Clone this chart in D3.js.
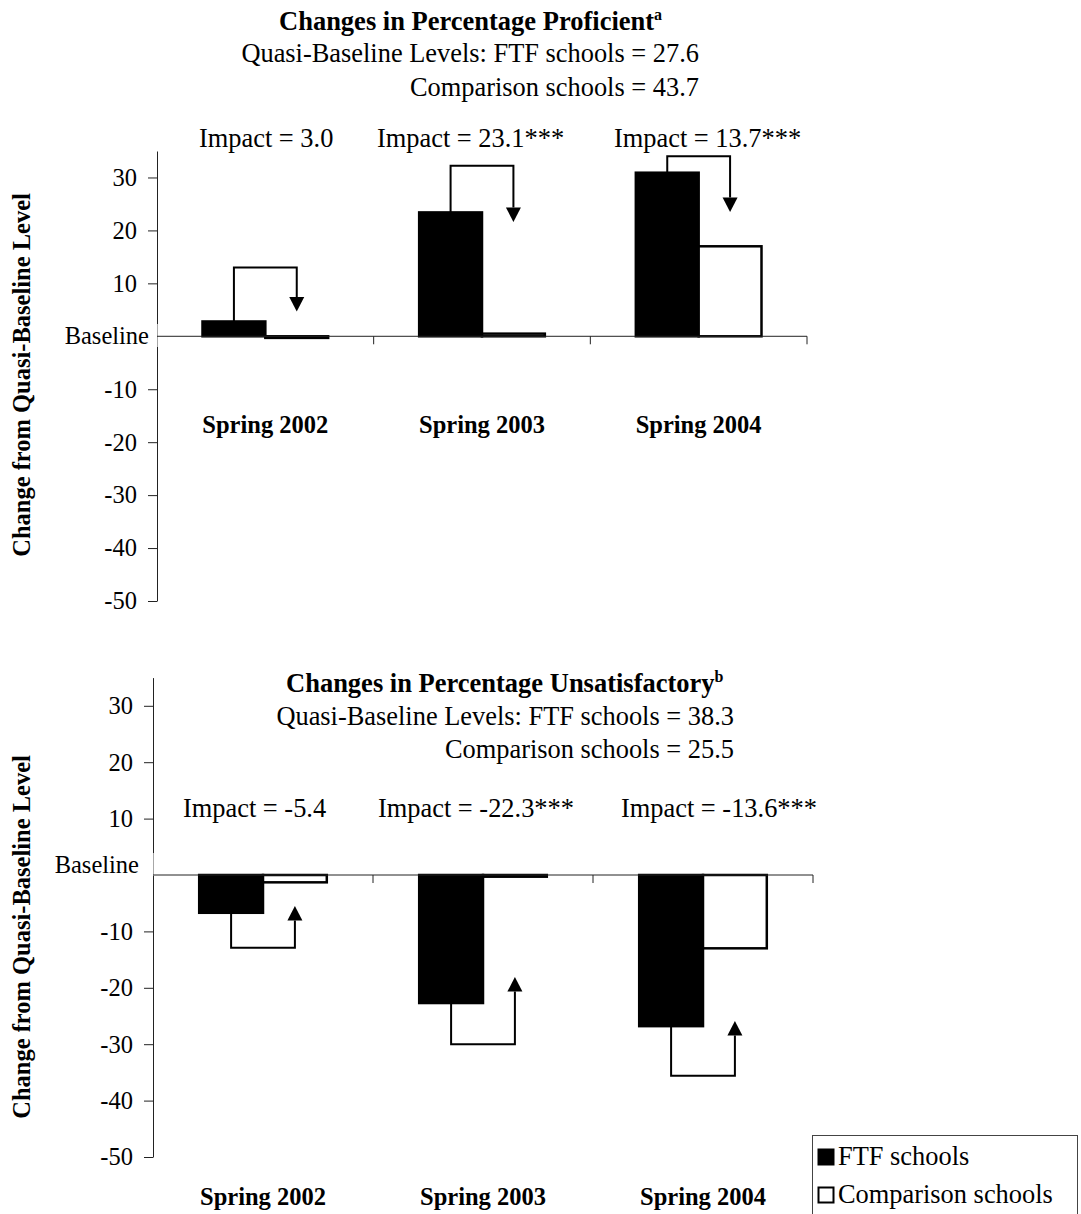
<!DOCTYPE html>
<html>
<head>
<meta charset="utf-8">
<script src="https://cdn.jsdelivr.net/npm/d3@7"></script>
<style>
  body { margin: 0; background: #fff; }
  svg { display: block; }
  text { font-family: "Liberation Serif", "Times New Roman", Times, serif; fill: #000; }
</style>
</head>
<body>
<svg id="chart"></svg>
<script>
// --- data ---
const categories = ["Spring 2002", "Spring 2003", "Spring 2004"];
const series = ["FTF schools", "Comparison schools"];
const yTicks = [-50, -40, -30, -20, -10, 0, 10, 20, 30];
const yDomain = [-50, 35];

const proficientFTF = [2.8, 23.4, 30.9];
const proficientComp = [-0.3, 0.5, 17.0];
const proficientBracket = [13.0, 32.2, 34.0];
const proficientArrowTip = [4.7, 21.6, 23.5];
const proficientImpact = ["Impact = 3.0", "Impact = 23.1***", "Impact = 13.7***"];

const unsatFTF = [-6.7, -22.7, -26.8];
const unsatComp = [-1.3, -0.3, -13.0];
const unsatBracket = [-12.9, -30.0, -35.6];
const unsatArrowTip = [-5.5, -18.1, -25.9];
const unsatImpact = ["Impact = -5.4", "Impact = -22.3***", "Impact = -13.6***"];

const titles = ["Changes in Percentage Proficient", "Changes in Percentage Unsatisfactory"];
const titleNotes = ["a", "b"];
const quasiFTF = ["Quasi-Baseline Levels: FTF schools = 27.6", "Quasi-Baseline Levels: FTF schools = 38.3"];
const quasiComp = ["Comparison schools = 43.7", "Comparison schools = 25.5"];
const yTitle = "Change from Quasi-Baseline Level";

// --- layout ---
const width = 1081, height = 1214;
const svg = d3.select("#chart").attr("width", width).attr("height", height);

const panels = [
  {
    xRange: [157, 807], yRange: [601, 151],
    ftf: proficientFTF, comp: proficientComp, bracket: proficientBracket, tip: proficientArrowTip,
    impact: proficientImpact, title: titles[0], note: titleNotes[0], q1: quasiFTF[0], q2: quasiComp[0],
    titleX: 279, titleY: 30, quasiEnd: 699, quasiY: 62, compY: 96, impactX: [199, 377, 614], impactY: 147,
    catY: 433, yTitleY: 375, baseEnd: 149, baseY: 344, baseTick: false
  },
  {
    xRange: [153, 813], yRange: [1157, 677.6],
    ftf: unsatFTF, comp: unsatComp, bracket: unsatBracket, tip: unsatArrowTip,
    impact: unsatImpact, title: titles[1], note: titleNotes[1], q1: quasiFTF[1], q2: quasiComp[1],
    titleX: 286, titleY: 692, quasiEnd: 734, quasiY: 725, compY: 758, impactX: [183, 378, 621], impactY: 817,
    catY: 1205, yTitleY: 937, baseEnd: 139, baseY: 873, baseTick: true
  }
];

function drawPanel(p) {
  const x0 = d3.scaleBand().domain(categories).range(p.xRange);
  const bw = x0.bandwidth();
  const groupW = bw * 0.58;
  const x1 = d3.scaleBand().domain(series).range([(bw - groupW) / 2, (bw + groupW) / 2]);
  const y = d3.scaleLinear().domain(yDomain).range(p.yRange);
  const g = svg.append("g");

  // y axis
  g.append("g")
    .attr("transform", `translate(${p.xRange[0]},0)`)
    .call(d3.axisLeft(y).tickValues(yTicks).tickSize(9).tickSizeOuter(0).tickPadding(11)
      .tickFormat(d => (d === 0 ? "" : d)))
    .attr("font-size", 24.5)
    .call(a => a.select(".domain").attr("stroke", "#222"))
    .call(a => a.selectAll(".tick line").attr("stroke", "#222"))
    .call(a => a.selectAll(".tick").filter(d => d === 0 && !p.baseTick).select("line").remove());

  // Baseline label with white backing over the axis line
  const lblG = g.append("g");
  const lbl = lblG.append("text")
    .attr("x", p.baseEnd).attr("y", p.baseY)
    .attr("text-anchor", "end").attr("font-size", 24.5)
    .text("Baseline");
  const bb = lbl.node().getBBox();
  lblG.insert("rect", () => lbl.node())
    .attr("x", bb.x - 2).attr("y", bb.y + 2)
    .attr("width", p.xRange[0] + 0.6 - (bb.x - 2)).attr("height", bb.height - 4)
    .attr("fill", "#fff");

  // bars
  const rows = categories.map((c, i) => ({ cat: c, values: [p.ftf[i], p.comp[i]] }));
  g.append("g").selectAll("g").data(rows).join("g")
    .attr("transform", d => `translate(${x0(d.cat)},0)`)
    .selectAll("rect").data(d => series.map((s, j) => ({ s, v: d.values[j] }))).join("rect")
    .attr("x", d => x1(d.s))
    .attr("width", x1.bandwidth())
    .attr("y", d => y(Math.max(0, d.v)))
    .attr("height", d => Math.abs(y(d.v) - y(0)))
    .attr("fill", d => (d.s === series[0] ? "#000" : "#fff"))
    .attr("stroke", "#000")
    .attr("stroke-width", 2.5);

  // x axis along the baseline, ticks at band edges
  g.append("line")
    .attr("x1", p.xRange[0]).attr("x2", p.xRange[1])
    .attr("y1", y(0)).attr("y2", y(0))
    .attr("stroke", "#222");
  g.append("g").selectAll("line").data(categories).join("line")
    .attr("x1", d => x0(d) + bw).attr("x2", d => x0(d) + bw)
    .attr("y1", y(0)).attr("y2", y(0) + 8)
    .attr("stroke", "#222");

  // category labels
  g.append("g").selectAll("text").data(categories).join("text")
    .attr("x", d => x0(d) + bw / 2).attr("y", p.catY)
    .attr("text-anchor", "middle").attr("font-size", 24.5).attr("font-weight", "bold")
    .text(d => d);

  // impact brackets with arrows
  const headH = 14.5, headW = 15;
  categories.forEach((c, i) => {
    const sx = x0(c) + x1(series[0]) + x1.bandwidth() / 2;
    const ex = x0(c) + x1(series[1]) + x1.bandwidth() / 2;
    const yb = y(p.bracket[i]), yt = y(p.tip[i]);
    const baseY = yt + headH * Math.sign(yb - yt);
    g.append("path")
      .attr("d", `M${sx},${y(p.ftf[i])}V${yb}H${ex}V${baseY}`)
      .attr("fill", "none").attr("stroke", "#000").attr("stroke-width", 2);
    g.append("path")
      .attr("d", `M${ex - headW / 2},${baseY}L${ex + headW / 2},${baseY}L${ex},${yt}Z`)
      .attr("fill", "#000");
    g.append("text")
      .attr("x", p.impactX[i]).attr("y", p.impactY)
      .attr("font-size", 26.4)
      .text(p.impact[i]);
  });

  // titles
  const t = g.append("text").attr("x", p.titleX).attr("y", p.titleY)
    .attr("font-size", 26.5).attr("font-weight", "bold");
  t.append("tspan").text(p.title);
  t.append("tspan").attr("font-size", 16).attr("dy", -10).text(p.note);
  g.append("text").attr("x", p.quasiEnd).attr("y", p.quasiY)
    .attr("text-anchor", "end").attr("font-size", 26.4).text(p.q1);
  g.append("text").attr("x", p.quasiEnd).attr("y", p.compY)
    .attr("text-anchor", "end").attr("font-size", 26.4).text(p.q2);

  // y axis title
  g.append("text")
    .attr("transform", `translate(30,${p.yTitleY}) rotate(-90)`)
    .attr("text-anchor", "middle").attr("font-size", 24.5).attr("font-weight", "bold")
    .text(yTitle);
}

panels.forEach(drawPanel);

// legend
const legend = svg.append("g");
legend.append("rect")
  .attr("x", 812.5).attr("y", 1135.5).attr("width", 265).attr("height", 90)
  .attr("fill", "#fff").attr("stroke", "#444");
const legendY = [1165, 1203];
series.forEach((s, i) => {
  legend.append("rect")
    .attr("x", 818.5).attr("y", legendY[i] - 15.5).attr("width", 15).attr("height", 15)
    .attr("fill", i === 0 ? "#000" : "#fff").attr("stroke", "#000").attr("stroke-width", 2);
  legend.append("text")
    .attr("x", 838).attr("y", legendY[i])
    .attr("font-size", 26.4)
    .text(s);
});
</script>
</body>
</html>
